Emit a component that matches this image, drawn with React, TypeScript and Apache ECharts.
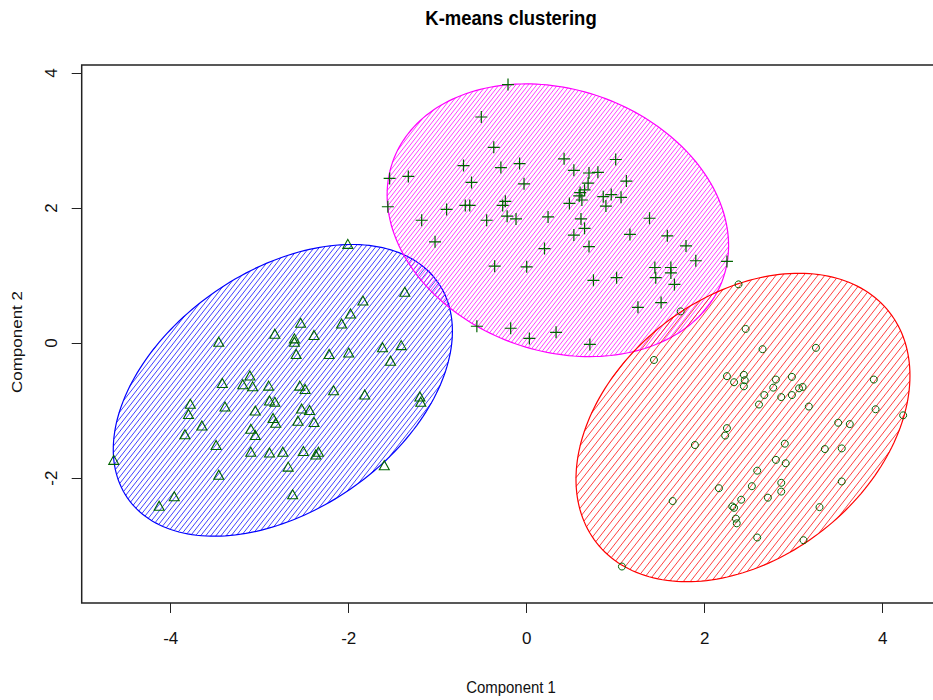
import React, { useEffect, useRef } from "react";
import * as echarts from "echarts";

const TITLE = "K-means clustering";
const X_NAME = "Component 1";
const Y_NAME = "Component 2";
const X_TICKS = [-4, -2, 0, 2, 4];
const Y_TICKS = [-2, 0, 2, 4];

// cluster 1 (triangles, blue ellipse)
const clusterTriangles: number[][] = [
  [-2.01, 1.47], [-1.37, 0.76], [-1.84, 0.63], [-1.98, 0.44], [-2.08, 0.29],
  [-2.54, 0.30], [-2.83, 0.14], [-2.61, 0.07], [-2.61, 0.02], [-2.39, 0.12],
  [-3.46, 0.02], [-2.59, -0.16], [-2.22, -0.16], [-2.00, -0.14], [-1.62, -0.06],
  [-1.41, -0.03], [-1.53, -0.26], [-3.11, -0.48], [-3.42, -0.59], [-3.19, -0.61],
  [-3.08, -0.64], [-2.90, -0.63], [-2.55, -0.63], [-2.49, -0.68], [-2.17, -0.70],
  [-1.82, -0.76], [-1.20, -0.79], [-1.19, -0.87], [-3.78, -0.90], [-3.80, -1.05],
  [-3.39, -0.94], [-2.89, -0.85], [-2.83, -0.87], [-3.05, -1.00], [-2.53, -0.97],
  [-2.44, -0.99], [-2.85, -1.11], [-2.82, -1.18], [-2.57, -1.15], [-2.39, -1.17],
  [-3.65, -1.22], [-3.84, -1.35], [-3.10, -1.27], [-3.05, -1.36], [-3.49, -1.51],
  [-3.10, -1.61], [-2.89, -1.62], [-2.74, -1.61], [-2.51, -1.60], [-2.37, -1.65],
  [-2.34, -1.61], [-4.64, -1.73], [-2.68, -1.83], [-1.60, -1.81], [-3.46, -1.95],
  [-2.63, -2.24], [-3.96, -2.27], [-4.13, -2.41],
];

// cluster 2 (plus signs, magenta ellipse)
const clusterPlus: number[][] = [
  [-0.21, 3.83], [-0.51, 3.35], [-0.37, 2.90], [-0.71, 2.63], [-0.29, 2.60],
  [-0.08, 2.66], [0.42, 2.73], [0.53, 2.56], [0.70, 2.52], [0.80, 2.53],
  [1.00, 2.72], [-1.54, 2.44], [-1.33, 2.47], [-0.62, 2.38], [-0.03, 2.36],
  [0.69, 2.37], [1.12, 2.40], [0.60, 2.23], [0.65, 2.27], [0.62, 2.12],
  [0.59, 2.18], [0.86, 2.17], [0.95, 2.20], [1.06, 2.16], [0.89, 2.03],
  [0.48, 2.07], [-1.56, 2.02], [-0.90, 1.98], [-0.69, 2.04], [-0.64, 2.04],
  [-0.27, 2.04], [-0.24, 2.10], [-1.18, 1.82], [-0.45, 1.82], [-0.22, 1.88],
  [-0.12, 1.84], [0.24, 1.87], [0.61, 1.84], [0.65, 1.70], [0.53, 1.60],
  [1.38, 1.85], [1.16, 1.61], [1.58, 1.59], [1.79, 1.44], [-1.03, 1.50],
  [0.20, 1.40], [0.70, 1.43], [1.90, 1.22], [2.25, 1.21], [-0.36, 1.14],
  [0.00, 1.13], [1.44, 1.12], [1.45, 0.97], [1.62, 1.12], [1.62, 1.04],
  [1.66, 0.87], [0.75, 0.93], [1.01, 0.97], [1.25, 0.53], [1.51, 0.60],
  [-0.56, 0.25], [-0.18, 0.22], [0.03, 0.07], [0.33, 0.16], [0.71, -0.02],
];

// cluster 3 (circles, red ellipse)
const clusterCircles: number[][] = [
  [2.38, 0.87], [1.73, 0.47], [2.46, 0.21], [2.65, -0.09], [3.25, -0.07],
  [1.43, -0.25], [2.25, -0.49], [2.33, -0.58], [2.44, -0.47], [2.45, -0.55],
  [2.44, -0.64], [2.80, -0.54], [2.77, -0.66], [2.98, -0.50], [3.06, -0.67],
  [3.10, -0.65], [2.67, -0.77], [2.61, -0.91], [2.86, -0.80], [2.98, -0.77],
  [3.17, -0.94], [3.90, -0.54], [3.92, -0.98], [4.23, -1.07], [2.25, -1.26],
  [2.23, -1.37], [1.89, -1.51], [3.50, -1.18], [3.63, -1.20], [2.90, -1.49],
  [3.35, -1.57], [3.54, -1.56], [2.80, -1.73], [2.91, -1.78], [2.59, -1.89],
  [2.86, -2.07], [2.86, -2.20], [2.53, -2.12], [2.16, -2.15], [3.54, -2.05],
  [2.71, -2.29], [2.41, -2.32], [2.31, -2.42], [2.33, -2.44], [1.64, -2.34],
  [2.35, -2.60], [2.36, -2.67], [3.29, -2.43], [2.59, -2.88], [3.11, -2.92],
  [1.07, -3.31],
];

// ellipses: [centerX, centerY, varX, varY, covXY]
const ellipseTriangles = [-2.74, -0.70, 3.63, 4.67, 1.67];
const ellipsePlus = [0.35, 1.82, 3.68, 4.08, -0.72];
const ellipseCircles = [2.43, -1.25, 3.52, 5.22, 1.44];

const POINT_COLOR = "#006400";
const FONT = "'Liberation Sans', Arial, sans-serif";

function ellipseRenderer(ell: number[], color: string, spacing: number, angleDeg: number) {
  return (_params: any, api: any) => {
    const [cx, cy, vx, vy, cxy] = ell;
    const W = Math.sqrt(vx);
    const q = cxy / W;
    const K = Math.sqrt(Math.max(vy - q * q, 1e-9));
    const pts: number[][] = [];
    const N = 200;
    for (let i = 0; i < N; i++) {
      const t = (i / N) * Math.PI * 2;
      pts.push(api.coord([cx + W * Math.cos(t), cy + q * Math.cos(t) + K * Math.sin(t)]));
    }
    const c = api.coord([cx, cy]);
    const px = api.coord([cx + 1, cy]);
    const py = api.coord([cx, cy + 1]);
    const ex = [px[0] - c[0], px[1] - c[1]];
    const ey = [py[0] - c[0], py[1] - c[1]];
    const A = [
      [W * ex[0] + q * ey[0], K * ey[0]],
      [W * ex[1] + q * ey[1], K * ey[1]],
    ];
    const det = A[0][0] * A[1][1] - A[0][1] * A[1][0];
    const inv = [
      [A[1][1] / det, -A[0][1] / det],
      [-A[1][0] / det, A[0][0] / det],
    ];
    const al = (angleDeg * Math.PI) / 180;
    const u = [Math.cos(al), -Math.sin(al)];
    const n = [Math.sin(al), Math.cos(al)];
    const mul = (v: number[]) => [inv[0][0] * v[0] + inv[0][1] * v[1], inv[1][0] * v[0] + inv[1][1] * v[1]];
    const a = mul(u);
    const b = mul(n);
    const aa = a[0] * a[0] + a[1] * a[1];
    const bb = b[0] * b[0] + b[1] * b[1];
    const ab = a[0] * b[0] + a[1] * b[1];
    const dmax = Math.sqrt(aa / (aa * bb - ab * ab));
    const off = n[0] * c[0] + n[1] * c[1];
    let path = "";
    const k0 = Math.ceil((off - dmax) / spacing);
    const k1 = Math.floor((off + dmax) / spacing);
    for (let k = k0; k <= k1; k++) {
      const d = k * spacing - off;
      const disc = ab * ab * d * d - aa * (d * d * bb - 1);
      if (disc <= 0) continue;
      const sq = Math.sqrt(disc);
      const s1 = (-d * ab - sq) / aa;
      const s2 = (-d * ab + sq) / aa;
      const x1 = c[0] + n[0] * d + u[0] * s1;
      const y1 = c[1] + n[1] * d + u[1] * s1;
      const x2 = c[0] + n[0] * d + u[0] * s2;
      const y2 = c[1] + n[1] * d + u[1] * s2;
      path += `M${x1.toFixed(2)} ${y1.toFixed(2)}L${x2.toFixed(2)} ${y2.toFixed(2)}`;
    }
    return {
      type: "group",
      children: [
        {
          type: "path",
          shape: { pathData: path },
          style: { fill: "none", stroke: color, lineWidth: 1, opacity: 0.75 },
        },
        {
          type: "polygon",
          shape: { points: pts },
          style: { fill: "none", stroke: color, lineWidth: 1.2 },
        },
      ],
    };
  };
}

export default function App() {
  const ref = useRef<HTMLDivElement>(null);
  useEffect(() => {
    if (!ref.current) return;
    const chart = echarts.init(ref.current, null, { renderer: "svg" });
    const gridLeft = 81.7;
    const gridTop = 65;
    const xMin = -5, xMax = 4.65, yMin = -3.85, yMax = 4.12;
    const pxX = 89, pxY = 67.5;
    chart.setOption({
      animation: false,
      backgroundColor: "#ffffff",
      grid: {
        show: true,
        left: gridLeft,
        top: gridTop,
        width: (xMax - xMin) * pxX,
        height: (yMax - yMin) * pxY,
        borderColor: "#222",
        borderWidth: 1.5,
        containLabel: false,
      },
      xAxis: {
        type: "value",
        min: xMin,
        max: xMax,
        splitLine: { show: false },
        axisLine: { show: false, onZero: false },
        axisTick: { show: true, length: 10, customValues: X_TICKS, lineStyle: { color: "#222", width: 1 } },
        axisLabel: { customValues: X_TICKS, fontSize: 17, color: "#111", margin: 27, fontFamily: FONT },
      },
      yAxis: {
        type: "value",
        min: yMin,
        max: yMax,
        splitLine: { show: false },
        axisLine: { show: false, onZero: false },
        axisTick: { show: true, length: 10, customValues: Y_TICKS, lineStyle: { color: "#222", width: 1 } },
        axisLabel: { customValues: Y_TICKS, fontSize: 17, color: "#111", margin: 22, rotate: 90, fontFamily: FONT },
      },
      graphic: [
        {
          type: "text",
          x: 511,
          y: 18,
          scaleX: 0.88,
          style: { text: TITLE, fontSize: 21, fontWeight: "bold", fontFamily: FONT, fill: "#000", align: "center", verticalAlign: "middle" },
        },
        {
          type: "text",
          x: 511,
          y: 687,
          scaleX: 0.88,
          style: { text: X_NAME, fontSize: 17, fontFamily: FONT, fill: "#111", align: "center", verticalAlign: "middle" },
        },
        {
          type: "text",
          x: 17,
          y: 342,
          rotation: Math.PI / 2,
          scaleY: 0.88,
          style: { text: Y_NAME, fontSize: 17, fontFamily: FONT, fill: "#111", align: "center", verticalAlign: "middle" },
        },
      ],
      series: [
        {
          type: "custom",
          data: [[ellipseTriangles[0], ellipseTriangles[1]]],
          renderItem: ellipseRenderer(ellipseTriangles, "#0000ff", 4, 52),
          silent: true,
          z: 1,
        },
        {
          type: "custom",
          data: [[ellipsePlus[0], ellipsePlus[1]]],
          renderItem: ellipseRenderer(ellipsePlus, "#ff00ff", 3.3, 52),
          silent: true,
          z: 1,
        },
        {
          type: "custom",
          data: [[ellipseCircles[0], ellipseCircles[1]]],
          renderItem: ellipseRenderer(ellipseCircles, "#ff0000", 5.5, 52),
          silent: true,
          z: 1,
        },
        {
          type: "scatter",
          data: clusterTriangles,
          symbol: "triangle",
          symbolSize: [10, 9],
          itemStyle: { color: "rgba(0,0,0,0)", borderColor: POINT_COLOR, borderWidth: 1.1, opacity: 1 },
          z: 3,
        },
        {
          type: "scatter",
          data: clusterPlus,
          symbol: "path://M0,6L12,6M6,0L6,12",
          symbolSize: 12,
          itemStyle: { color: "rgba(0,0,0,0)", borderColor: POINT_COLOR, borderWidth: 1.2, opacity: 1 },
          z: 3,
        },
        {
          type: "scatter",
          data: clusterCircles,
          symbol: "circle",
          symbolSize: 7,
          itemStyle: { color: "rgba(0,0,0,0)", borderColor: POINT_COLOR, borderWidth: 1, opacity: 1 },
          z: 3,
        },
      ],
    });
    return () => chart.dispose();
  }, []);
  return (
    <div style={{ position: "absolute", left: 0, top: 0, width: 933, height: 700, overflow: "hidden", background: "#fff" }}>
      <div ref={ref} style={{ width: 1000, height: 700 }} />
    </div>
  );
}
